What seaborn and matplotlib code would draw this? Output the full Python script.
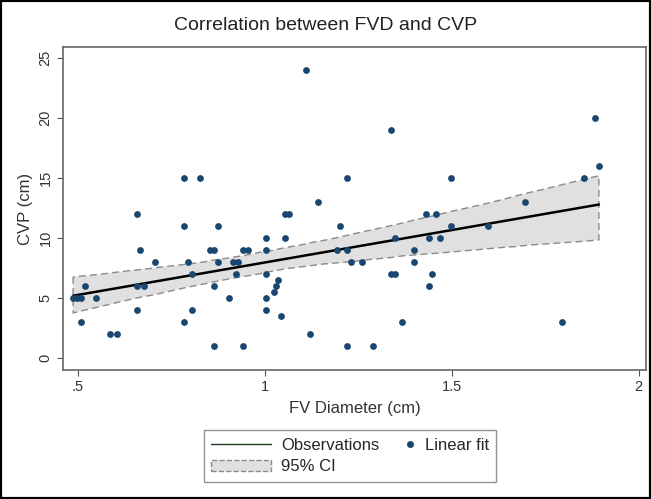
import matplotlib
matplotlib.use("Agg")
import matplotlib.pyplot as plt
import seaborn as sns
from matplotlib.lines import Line2D
from matplotlib.patches import Patch, Rectangle
from matplotlib.legend_handler import HandlerLine2D

# FV diameter (cm) and CVP (cm)
fvd = [0.487, 0.497, 0.507, 0.519, 0.507, 0.548, 0.586, 0.605, 0.657, 0.666,
       0.706, 0.657, 0.678, 0.657, 0.784, 0.826, 0.784, 0.795, 0.806, 0.806,
       0.784, 0.875, 0.853, 0.864, 0.875, 0.864, 0.905, 0.864, 0.924, 0.915,
       0.929, 0.942, 0.955, 0.942,
       1.111, 1.339, 1.220, 1.497, 1.141, 1.053, 1.065, 1.430, 1.459, 1.200,
       1.003, 1.053, 1.439, 1.468, 1.348, 1.003, 1.192, 1.220, 1.398, 1.230,
       1.260, 1.398, 1.003, 1.339, 1.348, 1.447, 1.035, 1.030, 1.025, 1.003,
       1.003, 1.042, 1.439, 1.368, 1.120, 1.220, 1.290,
       1.884, 1.894, 1.854, 1.695, 1.497, 1.597, 1.795]
cvp = [5, 5, 5, 6, 3, 5, 2, 2, 12, 9,
       8, 6, 6, 4, 15, 15, 11, 8, 7, 4,
       3, 11, 9, 9, 8, 6, 5, 1, 7, 8,
       8, 9, 9, 1,
       24, 19, 15, 15, 13, 12, 12, 12, 12, 11,
       10, 10, 10, 10, 10, 9, 9, 9, 9, 8,
       8, 8, 7, 7, 7, 7, 6.5, 6, 5.5, 5,
       4, 3.5, 6, 3, 2, 1, 1,
       20, 16, 15, 13, 11, 11, 3]

xticks = [0.5, 1, 1.5, 2]
xticklabels = [".5", "1", "1.5", "2"]
yticks = [0, 5, 10, 15, 20, 25]

sns.set_style("white")
plt.rcParams["font.family"] = ["Liberation Sans", "DejaVu Sans"]


class RightDot(HandlerLine2D):
    # put the legend dot at the right end of its handle box, like Stata does
    def create_artists(self, legend, orig_handle, xdescent, ydescent, width,
                       height, fontsize, trans):
        arts = super().create_artists(legend, orig_handle, xdescent, ydescent,
                                      width, height, fontsize, trans)
        for a in arts:
            a.set_xdata([width - xdescent - 3] * len(a.get_xdata()))
        return arts


navy = "#1a476f"
fig = plt.figure(figsize=(6.51, 4.99), dpi=100)
ax = fig.add_axes([63 / 651, 1 - 370 / 499, (646 - 63) / 651, (370 - 47) / 499])

sns.regplot(x=fvd, y=cvp, ax=ax, ci=95, seed=3, color=navy,
            scatter_kws=dict(s=24, linewidths=0, alpha=1, zorder=4),
            line_kws=dict(color="black", lw=1.8, zorder=3))

# style the confidence band like the original (grey fill, dashed outline)
band = ax.collections[1]
band.set_facecolor("#e0e0e0")
band.set_edgecolor("#8a8a8a")
band.set_linestyle((0, (5, 3)))
band.set_linewidth(1.0)
band.set_alpha(1)
band.set_zorder(2)

ax.set_xlim(0.46, 2.02)
ax.set_ylim(-1, 25.9)
ax.set_xticks(xticks)
ax.set_xticklabels(xticklabels)
ax.set_yticks(yticks)
ax.set_yticklabels([str(t) for t in yticks], rotation=90, va="center")
ax.tick_params(direction="out", length=4, color="#555555", labelsize=10.5,
               labelcolor="#333333", left=True, bottom=True)
for s in ax.spines.values():
    s.set_color("#666666")
    s.set_linewidth(1.2)

ax.set_xlabel("FV Diameter (cm)", fontsize=12, color="#333333", labelpad=5)
ax.set_ylabel("CVP (cm)", fontsize=12, color="#333333", labelpad=4)
fig.text(0.5, 1 - 25 / 499, "Correlation between FVD and CVP", fontsize=14,
         color="#222222", ha="center", va="center")

dot = Line2D([], [], marker="o", ls="", color=navy, markersize=4)
handles = [Line2D([], [], color="#1f3a1f", lw=1),
           Patch(facecolor="#e0e0e0", edgecolor="#8a8a8a", linestyle="--"),
           dot]
labels = ["Observations", "95% CI", "Linear fit"]
leg = fig.legend(handles, labels, loc="center", bbox_to_anchor=(350 / 651, 1 - 456 / 499),
                 ncol=2, frameon=True, fancybox=False, edgecolor="#777777",
                 fontsize=12, handlelength=3.6, handletextpad=0.6,
                 columnspacing=-1.5, borderpad=0.45, labelspacing=0.4,
                 handler_map={dot: RightDot()})
leg.get_frame().set_linewidth(1)

fig.patches.append(Rectangle((0, 0), 1, 1, transform=fig.transFigure, fill=False,
                             edgecolor="black", lw=3))

fig.savefig("out.png", dpi=100)
